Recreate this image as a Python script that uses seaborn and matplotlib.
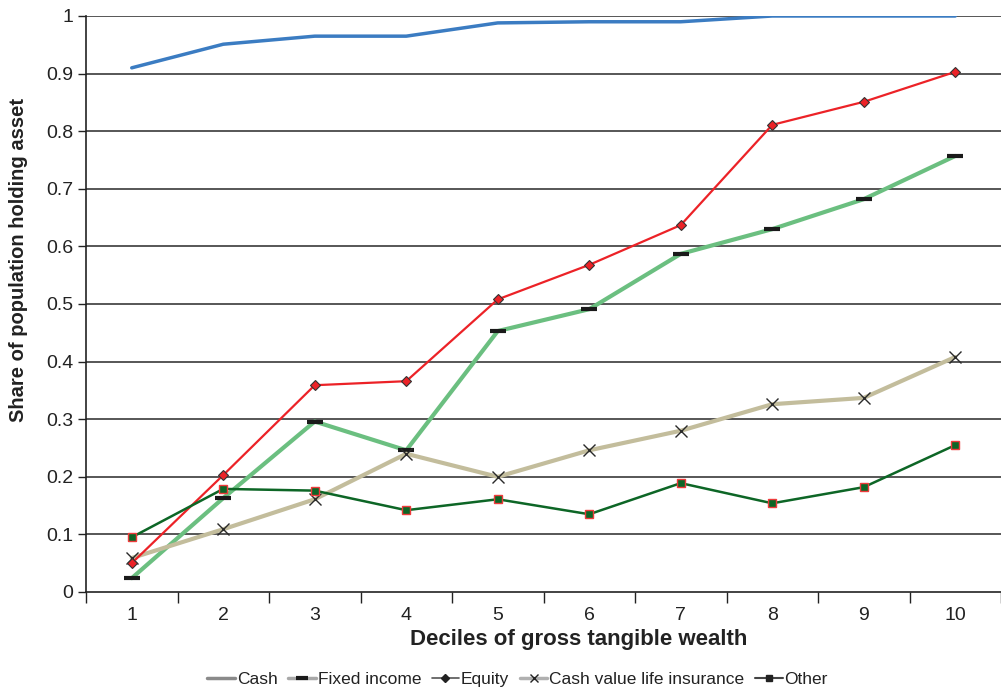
import matplotlib
matplotlib.use("Agg")
import matplotlib.pyplot as plt
from matplotlib.lines import Line2D
import seaborn as sns
import pandas as pd
import numpy as np

deciles = [1, 2, 3, 4, 5, 6, 7, 8, 9, 10]
cash = [0.910, 0.951, 0.965, 0.965, 0.988, 0.990, 0.990, 1.0, 1.0, 1.0]
fixed_income = [0.024, 0.163, 0.296, 0.246, 0.453, 0.491, 0.587, 0.630, 0.682, 0.757]
equity = [0.050, 0.203, 0.359, 0.366, 0.508, 0.568, 0.637, 0.811, 0.851, 0.903]
life_ins = [0.059, 0.109, 0.161, 0.240, 0.200, 0.246, 0.280, 0.326, 0.337, 0.408]
other = [0.095, 0.179, 0.176, 0.142, 0.161, 0.135, 0.189, 0.154, 0.182, 0.255]

sns.set_style("white")
plt.rcParams['font.family'] = ['Liberation Sans', 'DejaVu Sans']

fig = plt.figure(figsize=(10.01, 6.89), dpi=100)
ax = fig.add_axes([86/1001, 1 - 592/689, 915/1001, 576/689])

for v in np.arange(0.1, 1.01, 0.1):
    ax.axhline(v, color='#3a3a3a', lw=1.2, zorder=0)

sns.lineplot(x=deciles, y=cash, ax=ax, color='#3b7cc2', lw=2.5, zorder=3)
sns.lineplot(x=deciles, y=fixed_income, ax=ax, color='#6bbf80', lw=3, marker='_',
             markersize=11, markeredgewidth=3, markeredgecolor='#1a1a1a', zorder=3)
sns.lineplot(x=deciles, y=equity, ax=ax, color='#ec2227', lw=1.6, marker='D',
             markersize=5, markerfacecolor='#ec2227', markeredgecolor='#333333',
             markeredgewidth=0.8, zorder=4)
sns.lineplot(x=deciles, y=life_ins, ax=ax, color='#c3bd9c', lw=3, marker='x',
             markersize=8, markeredgecolor='#2a2a2a', markeredgewidth=1, zorder=3)
sns.lineplot(x=deciles, y=other, ax=ax, color='#0d6626', lw=1.8, marker='s',
             markersize=5.5, markerfacecolor='#0d6626', markeredgecolor='#ee3b3b',
             markeredgewidth=1, zorder=4)

ax.set_xlim(0.5, 10.5)
ax.set_ylim(0, 1)
ax.set_yticks(np.arange(0, 1.01, 0.1))
ax.set_yticklabels(['0'] + ['%.1f' % v for v in np.arange(0.1, 0.95, 0.1)] + ['1'])
ax.set_xticks(deciles)
ax.set_xticks(np.arange(0.5, 10.6, 1), minor=True)
ax.tick_params(axis='x', which='major', length=0, labelsize=14, pad=11, colors='#222222')
ax.tick_params(axis='x', which='minor', length=8, width=1, color='#222222', direction='out')
ax.tick_params(axis='y', length=6, width=1, color='#222222', direction='out', labelsize=14,
               pad=3, colors='#222222')
ax.tick_params(axis='both', bottom=True, left=True, which='both')
for s in ['top', 'right']:
    ax.spines[s].set_visible(False)
for s in ['left', 'bottom']:
    ax.spines[s].set_color('#222222')
    ax.spines[s].set_linewidth(1.2)

ax.set_xlabel('Deciles of gross tangible wealth', fontsize=16, fontweight='bold', color='#222222',
              va='center')
ax.set_ylabel('Share of population holding asset', fontsize=14.5, fontweight='bold', color='#222222',
              va='center')
ax.xaxis.set_label_coords(0.539, -0.083)
ax.yaxis.set_label_coords(-0.074, 0.577)

grey = '#8a8a8a'
handles = [
    Line2D([], [], color=grey, lw=2.5),
    Line2D([], [], color='#a8a8a8', lw=2.5, marker='_', markersize=9, markeredgewidth=3, markeredgecolor='#1a1a1a'),
    Line2D([], [], color='#555555', lw=1.2, marker='D', markersize=4, markerfacecolor='#222222', markeredgecolor='#222222'),
    Line2D([], [], color='#b0b0b0', lw=2.5, marker='x', markersize=6, markeredgecolor='#222222', markeredgewidth=1),
    Line2D([], [], color='#444444', lw=1.5, marker='s', markersize=4, markerfacecolor='#222222', markeredgecolor='#222222'),
]
labels = ['Cash', 'Fixed income', 'Equity', 'Cash value life insurance', 'Other']
fig.legend(handles, labels, loc='center', bbox_to_anchor=(0.517, 1 - 679/689), ncol=5, frameon=False,
           fontsize=12.5, handlelength=1.6, handletextpad=0.1, columnspacing=0.6, labelcolor='#222222')

fig.savefig('out.png', dpi=100)
